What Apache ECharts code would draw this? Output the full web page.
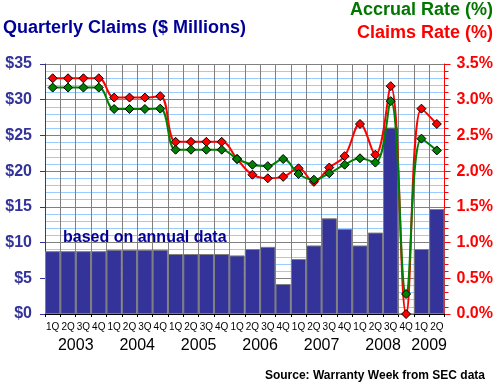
<!DOCTYPE html>
<html><head><meta charset="utf-8">
<script src="https://cdn.jsdelivr.net/npm/echarts@6/dist/echarts.min.js"></script>
<style>html,body{margin:0;padding:0;background:#fff}#c{width:500px;height:386px}</style>
</head><body><div id="c"></div>
<script>
const quarters = ['1Q','2Q','3Q','4Q','1Q','2Q','3Q','4Q','1Q','2Q','3Q','4Q','1Q','2Q','3Q','4Q','1Q','2Q','3Q','4Q','1Q','2Q','3Q','4Q','1Q','2Q'];
const years = ['2003','2004','2005','2006','2007','2008','2009'];
const quartersPerYear = [4,4,4,4,4,4,2];
const claims = [8.8,8.8,8.8,8.8, 9.0,9.0,9.0,9.0, 8.4,8.4,8.4,8.4, 8.2,9.1,9.4,4.2, 7.7,9.6,13.4,11.9, 9.6,11.4,26.1,0, 9.1,14.7];
const accrualRate = [3.17,3.17,3.17,3.17, 2.87,2.87,2.87,2.875, 2.30,2.30,2.30,2.30, 2.17,2.09,2.07,2.17, 1.96,1.88,1.97,2.09, 2.18,2.12,2.98,0.28, 2.455,2.29];
const claimsRate = [3.30,3.30,3.30,3.30, 3.03,3.03,3.03,3.05, 2.41,2.41,2.41,2.41, 2.17,1.95,1.90,1.92, 2.04,1.85,2.05,2.21, 2.66,2.23,3.19,0.0, 2.875,2.66];
const leftAxisRange = {min:0, max:35, interval:5};
const rightAxisRange = {min:0, max:3.5, interval:0.5};

const FF = 'Liberation Sans, Arial, sans-serif';
const chart = echarts.init(document.getElementById('c'), null, {renderer:'canvas'});
const option = {
  animation:false,
  backgroundColor:'#fff',
  grid:{left:45, right:55.5, top:64, bottom:72, containLabel:false, outerBoundsMode:'none'},
  xAxis:{
    type:'category', data:quarters, boundaryGap:true,
    axisLine:{show:true, lineStyle:{color:'#000', width:1}},
    axisTick:{show:true, length:3, lineStyle:{color:'#000'}},
    axisLabel:{color:'#000', fontSize:10, fontFamily:FF, margin:8, interval:0},
    splitLine:{show:true, interval:0, lineStyle:{color:'#808080', width:1}}
  },
  yAxis:[{
    type:'value', min:leftAxisRange.min, max:leftAxisRange.max, interval:leftAxisRange.interval,
    axisLine:{show:true, lineStyle:{color:'#333399', width:1}},
    axisTick:{show:true, length:5, lineStyle:{color:'#333399'}},
    axisLabel:{color:'#333399', fontSize:16, fontWeight:'bold', fontFamily:FF, margin:13, formatter:v=>'$'+v},
    splitLine:{show:true, lineStyle:{color:'#808080', width:1}},
    minorTick:{show:false, splitNumber:5},
    minorSplitLine:{show:true, lineStyle:{color:'#99ccff', width:1}}
  },{
    type:'value', min:rightAxisRange.min, max:rightAxisRange.max, interval:rightAxisRange.interval,
    position:'right',
    axisLine:{show:true, lineStyle:{color:'#ff0000', width:1}},
    axisTick:{show:true, length:6, lineStyle:{color:'#ff0000'}},
    minorTick:{show:true, splitNumber:5, length:4, lineStyle:{color:'#ff0000'}},
    axisLabel:{color:'#ff0000', fontSize:16, fontWeight:'bold', fontFamily:FF, margin:12, formatter:v=>v.toFixed(1)+'%'},
    splitLine:{show:false}
  }],
  series:[{
    type:'bar', data:claims, yAxisIndex:0, barCategoryGap:'0%',
    itemStyle:{color:'#333399', borderColor:'#808080', borderWidth:1}, z:2
  },{
    type:'line', data:claimsRate, yAxisIndex:1, smooth:0.4,
    symbol:'diamond', symbolSize:9, showAllSymbol:true,
    lineStyle:{color:'#ff0000', width:2},
    itemStyle:{color:'#ff0000', borderColor:'#000', borderWidth:1}, z:3
  },{
    type:'line', data:accrualRate, yAxisIndex:1, smooth:0.4,
    symbol:'diamond', symbolSize:9, showAllSymbol:true,
    lineStyle:{color:'#008000', width:2},
    itemStyle:{color:'#008000', borderColor:'#000', borderWidth:1}, z:4
  }]
};
chart.setOption(option);

const g = [
  {type:'text', style:{text:'Quarterly Claims ($ Millions)', x:3, y:28, font:'bold 18px '+FF, fill:'#000099', align:'left', verticalAlign:'middle'}},
  {type:'text', style:{text:'Accrual Rate (%)', x:493, y:10.5, font:'bold 18px '+FF, fill:'#007700', align:'right', verticalAlign:'middle'}},
  {type:'text', style:{text:'Claims Rate (%)', x:493, y:33.5, font:'bold 18px '+FF, fill:'#ff0000', align:'right', verticalAlign:'middle'}},
  {type:'text', z:100, style:{text:'based on annual data', x:63, y:237.5, font:'bold 16px '+FF, fill:'#000099', align:'left', verticalAlign:'middle'}},
  {type:'text', style:{text:'Source: Warranty Week from SEC data', x:485, y:375.5, font:'bold 12px '+FF, fill:'#000', align:'right', verticalAlign:'middle'}}
];
let start = 0;
years.forEach((yr,i)=>{
  const a = chart.convertToPixel({xAxisIndex:0}, start);
  const b = chart.convertToPixel({xAxisIndex:0}, start + quartersPerYear[i] - 1);
  g.push({type:'text', style:{text:yr, x:(a+b)/2, y:345.5, font:'16px '+FF, fill:'#000', align:'center', verticalAlign:'middle'}});
  start += quartersPerYear[i];
});
chart.setOption({graphic:g});
</script></body></html>
